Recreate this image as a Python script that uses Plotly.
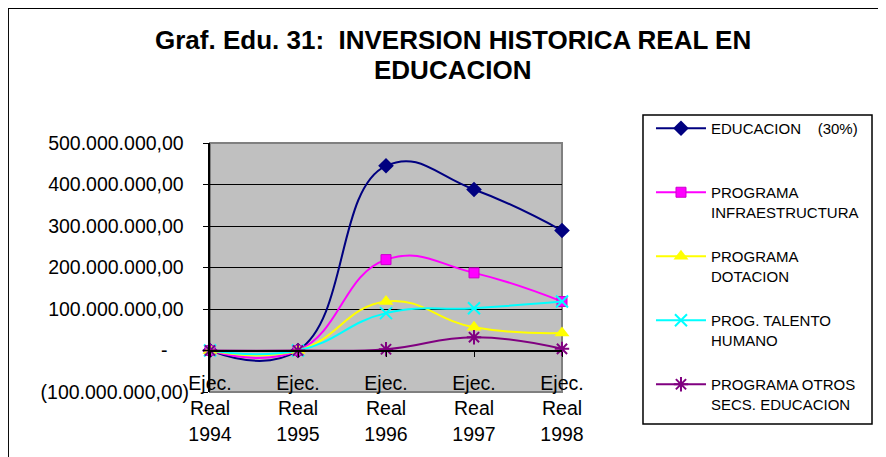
import plotly.graph_objects as go

# tick labels / categories
anios = ["Ejec.<br>Real<br>1994", "Ejec.<br>Real<br>1995", "Ejec.<br>Real<br>1996",
         "Ejec.<br>Real<br>1997", "Ejec.<br>Real<br>1998"]

# series (pesos)
educacion = [0, 0, 445e6, 388e6, 289e6]
infraestructura = [0, 0, 219e6, 187e6, 118e6]
dotacion = [0, 0, 118e6, 56e6, 42e6]
talento = [0, 0, 90e6, 102e6, 118e6]
otros = [0, 0, 3e6, 32e6, 4e6]

y_ticks = [-100e6, 0, 100e6, 200e6, 300e6, 400e6, 500e6]
y_labels = ["(100.000.000,00)", "-\u2007\u00a0\u00a0", "100.000.000,00\u00a0", "200.000.000,00\u00a0",
            "300.000.000,00\u00a0", "400.000.000,00\u00a0", "500.000.000,00\u00a0"]

FONT = "Liberation Sans, Arial, sans-serif"

series = [
    ("EDUCACION\u00a0\u00a0\u00a0 (30%)<br>\u00a0", educacion, "#000080",
     dict(symbol="diamond", size=12, color="#000080")),
    ("PROGRAMA<br>INFRAESTRUCTURA", infraestructura, "#FF00FF",
     dict(symbol="square", size=10, color="#FF00FF", line=dict(color="#CC00CC", width=1))),
    ("PROGRAMA<br>DOTACION", dotacion, "#FFFF00",
     dict(symbol="triangle-up", size=13, color="#FFFF00")),
    ("PROG. TALENTO<br>HUMANO", talento, "#00FFFF",
     dict(symbol="x-thin-open", size=12, color="#00FFFF", line=dict(color="#00FFFF", width=2))),
    ("PROGRAMA OTROS<br>SECS. EDUCACION", otros, "#800080",
     dict(symbol="asterisk-open", size=12, color="#800080", line=dict(color="#800080", width=2))),
]

fig = go.Figure()
for i, (name, vals, col, mk) in enumerate(series):
    fig.add_scatter(x=anios, y=vals, name=name, mode="lines+markers",
                    line=dict(color=col, width=2, shape="spline", smoothing=1.3),
                    marker=mk, cliponaxis=False, legendgroup="g%d" % i)

# page body has an 8px margin, so shift the figure up/left by 8px
fig.update_layout(
    width=886, height=457,
    margin=dict(l=202, r=332, t=135, b=73, autoexpand=False),
    paper_bgcolor="white", plot_bgcolor="#C0C0C0",
    font=dict(family=FONT, color="black"),
    showlegend=True,
    legend=dict(x=1.2528, xanchor="left", y=1.1245, yanchor="top",
                bgcolor="rgba(0,0,0,0)", borderwidth=0,
                font=dict(size=15, family=FONT), valign="top",
                tracegroupgap=22, itemwidth=50, maxheight=420),
)

fig.update_xaxes(type="category", range=[0, 4], anchor="free", position=1 / 6,
                 showline=True, linecolor="black", linewidth=2,
                 ticks="outside", ticklen=5, tickcolor="black",
                 tickfont=dict(size=19.5), showgrid=False, zeroline=False,
                 ticklabelstandoff=10)
fig.update_yaxes(range=[-100e6, 500e6], tickvals=y_ticks, ticktext=y_labels,
                 showline=True, linecolor="black", linewidth=2,
                 ticks="outside", ticklen=5, tickcolor="black",
                 tickfont=dict(size=19.5), showgrid=True, gridcolor="black",
                 gridwidth=1.3, zeroline=False, ticklabelstandoff=10)

# plot-area border (gray), outer frame, legend box
fig.add_shape(type="rect", xref="paper", yref="paper", x0=0, x1=1, y0=0, y1=1,
              line=dict(color="#808080", width=2), layer="between")
fig.add_shape(type="rect", xref="paper", yref="paper", x0=-0.574, x1=1.97, y0=-0.32, y1=1.542,
              line=dict(color="black", width=2))
fig.add_shape(type="rect", xref="paper", yref="paper", x0=1.2301, x1=1.8807, y0=-0.1285, y1=1.1124,
              line=dict(color="black", width=1.5), fillcolor="white", layer="above")

fig.add_annotation(text="<b>Graf. Edu. 31:\u00a0 INVERSION HISTORICA REAL EN</b>",
                   xref="paper", yref="paper", x=0.689, y=(392 - 40) / 249, showarrow=False,
                   xanchor="center", yanchor="middle", font=dict(size=26, family=FONT))
fig.add_annotation(text="<b>EDUCACION</b>",
                   xref="paper", yref="paper", x=0.689, y=(392 - 70) / 249, showarrow=False,
                   xanchor="center", yanchor="middle", font=dict(size=26, family=FONT))

fig.write_html("out.html")
